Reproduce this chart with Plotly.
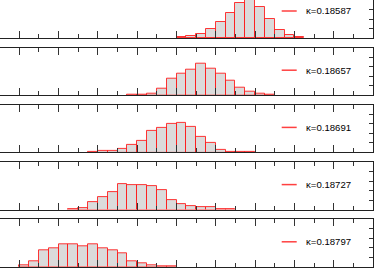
import plotly.graph_objects as go

# ---- data ----
kappas = ["κ=0.18587", "κ=0.18657", "κ=0.18691", "κ=0.18727", "κ=0.18797"]
bin_width = 0.25
bin_start = [4.0, 2.75, 1.75, 1.25, 0.0]
counts_1 = [0.7, 2.4, 4.2, 9.5, 16.8, 26.3, 36.8, 39.5, 32.6, 20.0, 8.1, 2.8, 0.7]
counts_2 = [0.3, 0.7, 2.1, 6.6, 17.6, 22.4, 26.6, 33.0, 28.1, 22.4, 15.0, 7.7, 4.2, 1.4, 0.3]
counts_3 = [0.3, 1.1, 1.8, 3.2, 8.4, 11.9, 22.8, 25.3, 29.8, 30.8, 27.0, 16.5, 9.5, 2.4, 0.7, 0.7, 0.3]
counts_4 = [0.7, 2.1, 7.4, 12.9, 18.9, 27.0, 26.0, 25.3, 24.5, 20.3, 9.8, 5.6, 3.9, 2.8, 2.4, 0.7, 0.3]
counts_5 = [1.4, 5.3, 17.2, 20.0, 23.5, 24.2, 21.1, 23.2, 19.3, 17.2, 13.7, 6.0, 3.9, 1.1, 0.3, 0.3]
all_counts = [counts_1, counts_2, counts_3, counts_4, counts_5]

# ---- layout geometry (pixels) ----
W, H = 374, 268
panels_px = [(0, 38.0), (47.7, 95.2), (104.9, 152.4), (162.1, 209.6), (219.3, 266.8)]
units_per_px = 50 / 47.5
x_range = [-0.491, 9.0]

fig = go.Figure()
layout = dict(
    width=W, height=H,
    margin=dict(l=0, r=1, t=0, b=0),
    paper_bgcolor="white", plot_bgcolor="white",
    showlegend=False, bargap=0,
    font=dict(family="Liberation Sans, Arial, sans-serif", size=10, color="black"),
)
shapes, annotations = [], []

for i, (counts, start, label) in enumerate(zip(all_counts, bin_start, kappas)):
    n = i + 1
    xa = "x" if n == 1 else f"x{n}"
    ya = "y" if n == 1 else f"y{n}"
    centers = [start + bin_width * (k + 0.5) for k in range(len(counts))]
    fig.add_trace(go.Bar(
        x=centers, y=counts, width=bin_width,
        marker=dict(color="rgba(210,210,210,0.8)",
                    line=dict(color="rgba(255,20,20,0.85)", width=1)),
        xaxis=xa, yaxis=ya, showlegend=False, hoverinfo="skip",
    ))
    top_px, bot_px = panels_px[i]
    dom = [1 - bot_px / H, 1 - top_px / H]
    yr = [0, (bot_px - top_px) * units_per_px]
    layout["xaxis" if n == 1 else f"xaxis{n}"] = dict(
        domain=[0, 1], range=x_range, anchor=ya,
        showline=True, linecolor="#222", linewidth=1,
        mirror=("ticks" if n > 1 else False),
        ticks="inside", ticklen=7, tickcolor="#333", tickwidth=1,
        tick0=0, dtick=1, showticklabels=False, showgrid=False, zeroline=False,
        minor=dict(ticks="inside", ticklen=4, tickcolor="#333", dtick=0.5, tick0=0, showgrid=False),
    )
    layout["yaxis" if n == 1 else f"yaxis{n}"] = dict(
        domain=dom, range=yr, anchor=xa, side="right",
        showline=True, linecolor="#222", linewidth=1,
        ticks="inside", ticklen=4, tickcolor="#333",
        tick0=0, dtick=10, showticklabels=False, showgrid=False, zeroline=False,
    )
    # legend entry
    if n == 1:
        ly = 1 - 11 / H
    else:
        ly = 1 - (top_px + 22.5) / H
    shapes.append(dict(type="line", xref="paper", yref="paper",
                       x0=281.7 / 373, x1=296.7 / 373, y0=ly, y1=ly,
                       line=dict(color="rgba(255,30,30,0.85)", width=1.5)))
    annotations.append(dict(text=label, xref="paper", yref="paper",
                            x=303.5 / 373, y=ly, xanchor="left", yanchor="middle",
                            showarrow=False, font=dict(size=9.6, color="black")))

layout["shapes"] = shapes
layout["annotations"] = annotations
fig.update_layout(**layout)
fig.write_html("out.html", config={"displayModeBar": False},
               post_script="document.body.style.margin='0';document.body.style.overflow='hidden';")
